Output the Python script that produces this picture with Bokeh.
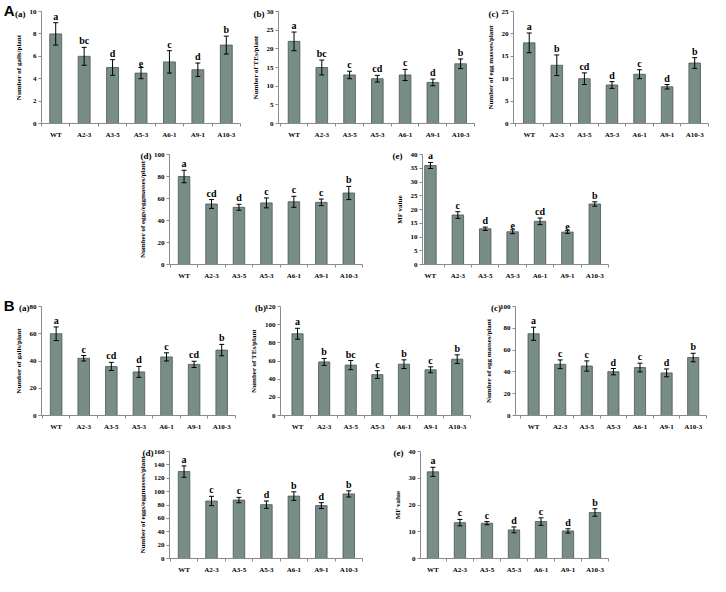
from bokeh.plotting import figure
from bokeh.layouts import column, row
from bokeh.models import (Range1d, FixedTicker, Whisker, TeeHead, ColumnDataSource,
                          Label, Spacer)
from bokeh.embed import file_html
from bokeh.resources import INLINE
from bokeh.core.properties import value

# ---------------- data ----------------
lines = ["WT", "A2-3", "A3-5", "A5-3", "A6-1", "A9-1", "A10-3"]

# Experiment A
A_galls = [8.0, 6.0, 5.0, 4.5, 5.5, 4.8, 7.0]
A_galls_err = [1.0, 0.8, 0.7, 0.5, 1.0, 0.6, 0.8]
A_galls_sig = ["a", "bc", "d", "e", "c", "d", "b"]

A_tes = [22.0, 15.0, 13.0, 12.0, 13.0, 11.0, 16.0]
A_tes_err = [2.5, 2.0, 1.0, 0.9, 1.5, 0.9, 1.3]
A_tes_sig = ["a", "bc", "c", "cd", "c", "d", "b"]

A_egg = [18.0, 13.0, 10.0, 8.6, 11.0, 8.2, 13.5]
A_egg_err = [2.2, 2.3, 1.3, 0.75, 1.0, 0.5, 1.2]
A_egg_sig = ["a", "b", "cd", "d", "c", "d", "b"]

A_eggs = [80.0, 55.0, 52.0, 56.0, 57.0, 56.5, 65.0]
A_eggs_err = [5.7, 4.0, 2.7, 4.5, 5.0, 3.0, 6.0]
A_eggs_sig = ["a", "cd", "d", "c", "c", "c", "b"]

A_mf = [36.0, 18.0, 13.0, 11.9, 15.7, 11.8, 22.0]
A_mf_err = [1.1, 1.2, 0.6, 0.7, 1.2, 0.5, 0.8]
A_mf_sig = ["a", "c", "d", "e", "cd", "e", "b"]

# Experiment B
B_galls = [60.0, 42.0, 36.0, 32.0, 43.0, 37.5, 48.0]
B_galls_err = [5.0, 2.0, 3.0, 4.0, 3.0, 2.3, 4.2]
B_galls_sig = ["a", "c", "cd", "d", "c", "cd", "b"]

B_tes = [90.0, 59.0, 55.5, 45.0, 56.5, 50.3, 62.0]
B_tes_err = [6.0, 3.8, 5.0, 4.3, 4.8, 3.3, 4.8]
B_tes_sig = ["a", "b", "bc", "c", "b", "c", "b"]

B_egg = [75.0, 47.0, 45.4, 40.2, 44.0, 39.1, 53.2]
B_egg_err = [6.0, 4.0, 4.7, 2.9, 4.0, 3.6, 3.9]
B_egg_sig = ["a", "c", "c", "d", "c", "d", "b"]

B_eggs = [130.0, 86.0, 87.4, 80.5, 93.3, 79.1, 96.6]
B_eggs_err = [8.5, 7.0, 4.0, 5.5, 6.4, 4.4, 4.6]
B_eggs_sig = ["a", "c", "c", "d", "b", "d", "b"]

B_mf = [32.4, 13.4, 13.2, 10.7, 13.8, 10.3, 17.2]
B_mf_err = [1.7, 1.2, 0.6, 1.1, 1.4, 0.8, 1.4]
B_mf_sig = ["a", "c", "c", "d", "c", "d", "b"]

# axis ticks
ticks_A_galls = [0, 2, 4, 6, 8, 10]
ticks_A_tes = [0, 5, 10, 15, 20, 25, 30]
ticks_A_egg = [0, 5, 10, 15, 20, 25]
ticks_A_eggs = [0, 20, 40, 60, 80, 100]
ticks_A_mf = [0, 5, 10, 15, 20, 25, 30, 35, 40]
ticks_B_galls = [0, 20, 40, 60, 80]
ticks_B_tes = [0, 20, 40, 60, 80, 100, 120]
ticks_B_egg = [0, 20, 40, 60, 80, 100]
ticks_B_eggs = [0, 20, 40, 60, 80, 100, 120, 140, 160]
ticks_B_mf = [0, 10, 20, 30, 40]

ylab_galls = "Number of galls/plant"
ylab_tes = "Number of TEs/plant"
ylab_egg = "Number of egg masses/plant"
ylab_eggs = "Number of eggs/eggmasses/plant"
ylab_mf = "MF value"

# ---------------- styling / layout ----------------
SX = 710 / 726
SY = 576 / 592
X = lambda v: int(round(v * SX))
Y = lambda v: int(round(v * SY))

BAR_FILL = "#788D88"
BAR_LINE = "#4A5753"
AXIS_COL = "#8A8A8A"
SERIF = "Liberation Serif"


def panel(vals, errs, sig, yticks, ylabel, tag, fig_x0, fig_x1, frame_l, frame_r,
          row_top, row_bot, frame_t, frame_b, xstart, tag_dx, big=None):
    w = X(fig_x1) - X(fig_x0)
    h = Y(row_bot) - Y(row_top)
    bl = X(frame_l) - X(fig_x0)
    bt = Y(frame_t) - Y(row_top)
    br = X(fig_x1) - X(frame_r)
    bb = Y(row_bot) - Y(frame_b)
    ymax = yticks[-1]
    p = figure(width=w, height=h, output_backend="svg", toolbar_location=None,
               x_range=Range1d(xstart, 6.5), y_range=Range1d(0, ymax),
               min_border_left=bl, min_border_right=br,
               min_border_top=bt, min_border_bottom=bb)
    p.outline_line_color = None
    p.xgrid.visible = False
    p.ygrid.visible = False
    p.background_fill_color = "white"
    p.border_fill_color = "white"

    xs = list(range(len(vals)))
    upper = [v + e for v, e in zip(vals, errs)]
    lower = [v - e for v, e in zip(vals, errs)]
    src = ColumnDataSource(dict(x=xs, top=vals, upper=upper, lower=lower, sig=sig))

    p.vbar(x="x", top="top", width=0.42, bottom=0, source=src,
           fill_color=BAR_FILL, line_color=BAR_LINE, line_width=0.8)
    wk = Whisker(source=src, base="x", upper="upper", lower="lower",
                 line_color="black", line_width=1,
                 upper_head=TeeHead(size=5, line_color="black", line_width=1),
                 lower_head=TeeHead(size=5, line_color="black", line_width=1),
                 level="overlay")
    p.add_layout(wk)
    p.text(x="x", y="upper", text="sig", source=src, text_align="center",
           text_baseline="bottom", y_offset=-1, text_font=value(SERIF),
           text_font_style="bold", text_font_size="10px", text_color="black")

    # x axis
    xa = p.xaxis[0]
    xa.ticker = FixedTicker(ticks=xs, minor_ticks=[i - 0.5 for i in range(len(vals) + 1)])
    xa.major_label_overrides = {i: lines[i] for i in xs}
    xa.axis_line_color = AXIS_COL
    xa.major_tick_line_color = None
    xa.major_tick_out = 3
    xa.major_tick_in = 0
    xa.minor_tick_line_color = AXIS_COL
    xa.minor_tick_out = 3
    xa.minor_tick_in = 0
    xa.major_label_standoff = 4
    xa.major_label_text_font = SERIF
    xa.major_label_text_font_style = "bold"
    xa.major_label_text_font_size = "7px"
    xa.major_label_text_color = "black"

    ya = p.yaxis[0]
    ya.ticker = FixedTicker(ticks=yticks, minor_ticks=[])
    ya.axis_line_color = AXIS_COL
    ya.major_tick_line_color = AXIS_COL
    ya.major_tick_out = 3
    ya.major_tick_in = 0
    ya.minor_tick_line_color = None
    ya.major_label_standoff = 2
    ya.major_label_text_font = SERIF
    ya.major_label_text_font_style = "bold"
    ya.major_label_text_font_size = "7px"
    ya.major_label_text_color = "black"
    ya.axis_label = ylabel
    ya.axis_label_standoff = 4
    ya.axis_label_text_font = SERIF
    ya.axis_label_text_font_style = "bold"
    ya.axis_label_text_font_size = "7px"
    ya.axis_label_text_color = "black"

    # panel tags: placed in a side panel (so they are not clipped to the frame),
    # positioned through the plot's own data scales
    fw = w - bl - br
    fh = h - bt - bb
    ppx = fw / (6.5 - xstart)
    ppy = fh / ymax
    p.add_layout(Label(x=xstart + tag_dx / ppx, y=ymax - 2 / ppy, text=tag,
                       text_align="right", text_baseline="middle",
                       text_font=SERIF, text_font_style="bold", text_font_size="9px",
                       text_color="black"), "above")
    if big is not None:
        p.add_layout(Label(x=xstart - (bl - 2) / ppx, y=ymax + 1 / ppy, text=big,
                           text_align="left", text_baseline="middle",
                           text_font="Liberation Sans", text_font_style="bold",
                           text_font_size="15px", text_color="black"), "left")
    return p


R1 = (0, 145, 11, 126)
R2 = (145, 290, 158, 275)
R3 = (290, 445, 315, 431)
R4 = (445, 592, 464, 580)

pAa = panel(A_galls, A_galls_err, A_galls_sig, ticks_A_galls, ylab_galls, "(a)",
            0, 252, 41, 245, *R1, -0.50, -16, big="A")
pAb = panel(A_tes, A_tes_err, A_tes_sig, ticks_A_tes, ylab_tes, "(b)",
            252, 492, 284, 485, *R1, -0.56, -14)
pAc = panel(A_egg, A_egg_err, A_egg_sig, ticks_A_egg, ylab_egg, "(c)",
            492, 726, 525, 724, *R1, -0.57, -15)
pAd = panel(A_eggs, A_eggs_err, A_eggs_sig, ticks_A_eggs, ylab_eggs, "(d)",
            138, 388, 172, 370, *R2, -0.53, -18)
pAe = panel(A_mf, A_mf_err, A_mf_sig, ticks_A_mf, ylab_mf, "(e)",
            388, 640, 432, 622, *R2, -0.29, -20)
pBa = panel(B_galls, B_galls_err, B_galls_sig, ticks_B_galls, ylab_galls, "(a)",
            0, 252, 41, 240, *R3, -0.53, -12, big="B")
pBb = panel(B_tes, B_tes_err, B_tes_sig, ticks_B_tes, ylab_tes, "(b)",
            252, 492, 281, 481, *R3, -0.64, -15)
pBc = panel(B_egg, B_egg_err, B_egg_sig, ticks_B_egg, ylab_egg, "(c)",
            492, 726, 521, 722, *R3, -0.68, -15)
pBd = panel(B_eggs, B_eggs_err, B_eggs_sig, ticks_B_eggs, ylab_eggs, "(d)",
            138, 388, 172, 370, *R4, -0.53, -16)
pBe = panel(B_mf, B_mf_err, B_mf_sig, ticks_B_mf, ylab_mf, "(e)",
            388, 640, 429, 622, *R4, -0.46, -17)

sp2 = Spacer(width=X(138), height=Y(290) - Y(145))
sp4 = Spacer(width=X(138), height=Y(592) - Y(445))

layout = column(row(pAa, pAb, pAc),
                row(sp2, pAd, pAe),
                row(pBa, pBb, pBc),
                row(sp4, pBd, pBe))

open("out.html", "w").write(file_html(layout, INLINE))
